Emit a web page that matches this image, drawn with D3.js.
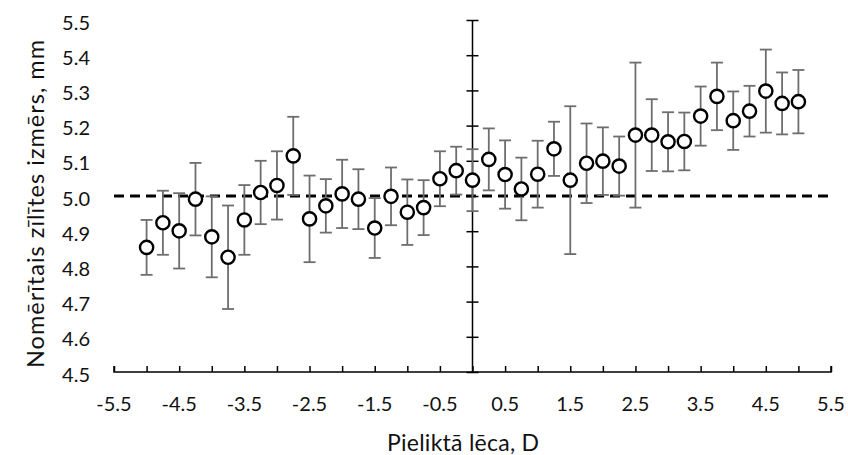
<!DOCTYPE html>
<html><head><meta charset="utf-8">
<script src="https://cdn.jsdelivr.net/npm/d3@7"></script>
<style>body{margin:0;background:#fff}svg{display:block}text{font-family:Lato,"Open Sans",sans-serif;fill:#111}</style>
</head><body><svg id="c" width="848" height="455"></svg>
<script>
const lensPower = [-5,-4.75,-4.5,-4.25,-4,-3.75,-3.5,-3.25,-3,-2.75,-2.5,-2.25,-2,-1.75,-1.5,-1.25,-1,-0.75,-0.5,-0.25,0,0.25,0.5,0.75,1,1.25,1.5,1.75,2,2.25,2.5,2.75,3,3.25,3.5,3.75,4,4.25,4.5,4.75,5];
const pupilSize = [4.854,4.924,4.901,4.991,4.884,4.826,4.932,5.010,5.030,5.114,4.935,4.972,5.006,4.991,4.909,4.999,4.954,4.967,5.049,5.072,5.045,5.104,5.061,5.020,5.062,5.134,5.045,5.093,5.099,5.085,5.173,5.173,5.154,5.155,5.227,5.283,5.214,5.241,5.298,5.263,5.268];
const pupilErr = [0.078,0.091,0.107,0.103,0.115,0.147,0.099,0.090,0.097,0.111,0.123,0.076,0.097,0.085,0.085,0.082,0.093,0.078,0.078,0.068,0.088,0.088,0.097,0.089,0.095,0.077,0.210,0.113,0.096,0.084,0.206,0.102,0.084,0.082,0.084,0.096,0.083,0.072,0.118,0.088,0.090];
const xTicks = [-5.5,-4.5,-3.5,-2.5,-1.5,-0.5,0.5,1.5,2.5,3.5,4.5,5.5];
const xMinorTicks = [-5,-4,-3,-2,-1,0,1,2,3,4,5];
const yTicks = [4.5,4.6,4.7,4.8,4.9,5.0,5.1,5.2,5.3,5.4,5.5];
const refValue = 5.0;
const xTitle = "Pieliktā lēca, D";
const yTitle = "Nomērītais zīlītes izmērs, mm";

const svg = d3.select("#c");
const x = d3.scaleLinear().domain([-5.5,5.5]).range([114,831]);
const y = d3.scaleLinear().domain([4.5,5.5]).range([372,20]);

// x axis at bottom, ticks pointing up
const gx = svg.append("g").attr("transform",`translate(0,${y(4.5)})`);
gx.call(d3.axisTop(x).tickValues(xTicks.concat(xMinorTicks)).tickSize(6).tickFormat(""));
gx.select(".domain").attr("stroke","#000").attr("stroke-width",1.5).attr("d",`M${x(-5.5)},-6V0H${x(5.5)}V-6`);
gx.selectAll(".tick line").attr("stroke","#000").attr("stroke-width",1.5);
svg.append("g").selectAll("text").data(xTicks).join("text")
  .attr("x",d=>x(d)).attr("y",411).attr("text-anchor","middle").attr("font-size",20)
  .text(d=>d.toFixed(1));

// y axis at x = 0, ticks crossing
const gy = svg.append("g").attr("transform",`translate(${x(0)},0)`);
gy.call(d3.axisLeft(y).tickValues(yTicks).tickSize(0).tickFormat(""));
gy.select(".domain").attr("stroke","#000").attr("stroke-width",1.5).attr("d",`M0,${y(5.5)}V${y(4.5)}`);
gy.selectAll(".tick").append("line").attr("x1",-6).attr("x2",6).attr("stroke","#000").attr("stroke-width",1.5);
svg.append("g").selectAll("text").data(yTicks).join("text")
  .attr("x",90).attr("y",d=>y(d)+9.5).attr("text-anchor","end").attr("font-size",20)
  .text(d=>d.toFixed(1));

// reference dashed line
svg.append("line").attr("x1",x(-5.5)).attr("x2",x(5.5)).attr("y1",y(refValue)).attr("y2",y(refValue))
  .attr("stroke","#000").attr("stroke-width",3).attr("stroke-dasharray","10,6");

const data = lensPower.map((v,i)=>({x:v,y:pupilSize[i],e:pupilErr[i]}));
const eb = svg.append("g").attr("stroke","#6e6e6e").attr("stroke-width",1.8);
eb.selectAll("line.v").data(data).join("line").attr("class","v")
  .attr("x1",d=>x(d.x)).attr("x2",d=>x(d.x)).attr("y1",d=>y(d.y+d.e)).attr("y2",d=>y(d.y-d.e));
eb.selectAll("line.t").data(data).join("line").attr("class","t")
  .attr("x1",d=>x(d.x)-6).attr("x2",d=>x(d.x)+6).attr("y1",d=>y(d.y+d.e)).attr("y2",d=>y(d.y+d.e));
eb.selectAll("line.b").data(data).join("line").attr("class","b")
  .attr("x1",d=>x(d.x)-6).attr("x2",d=>x(d.x)+6).attr("y1",d=>y(d.y-d.e)).attr("y2",d=>y(d.y-d.e));

svg.append("g").selectAll("circle").data(data).join("circle")
  .attr("cx",d=>x(d.x)).attr("cy",d=>y(d.y)).attr("r",6.6)
  .attr("fill","#fff").attr("stroke","#000").attr("stroke-width",2.4);

svg.append("text").attr("x",463).attr("y",451).attr("text-anchor","middle").attr("font-size",23)
  .attr("textLength",152).attr("lengthAdjust","spacing").text(xTitle);
svg.append("text").attr("transform",`translate(44,204) rotate(-90)`).attr("text-anchor","middle").attr("font-size",23.5)
  .attr("textLength",328).attr("lengthAdjust","spacing").text(yTitle);
</script></body></html>
